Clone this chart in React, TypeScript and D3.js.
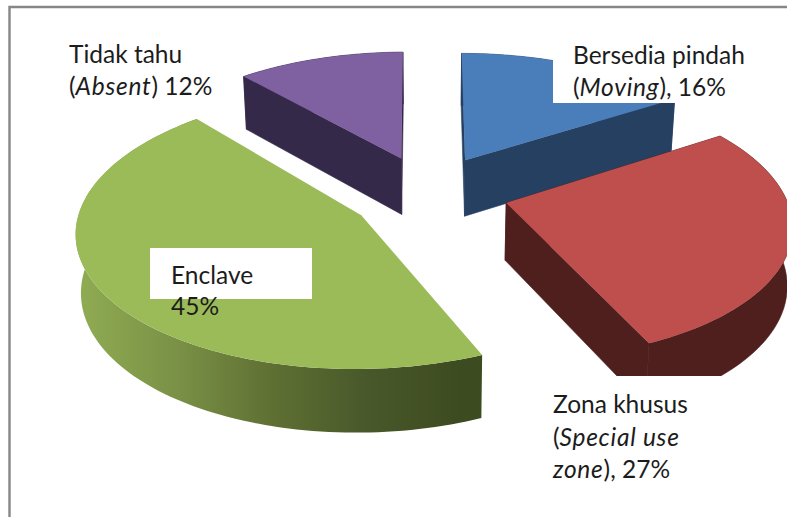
import React from "react";
import * as d3 from "d3";

const categories = ["Bersedia pindah", "Zona khusus", "Enclave", "Tidak tahu"];
const values = [16, 27, 45, 12];
const topColors = ["#4a7ebb", "#be4f4c", "#9bbb59", "#7f60a0"];
const sideColors = ["#264061", "#4f1f1e", "#4f6128", "#35294a"];
const drawOrder = [3, 0, 2, 1];
const greenStops = ["#8fab52", "#7a9146", "#5f7033", "#49582a", "#3d4b20"];

type Seg = { t: string; i?: boolean };
const labelLines: Seg[][][] = [
  [[{ t: "Bersedia pindah" }], [{ t: "(" }, { t: "Moving", i: true }, { t: "), 16%" }]],
  [[{ t: "Zona khusus" }], [{ t: "(" }, { t: "Special use", i: true }], [{ t: "zone", i: true }, { t: "), 27%" }]],
  [[{ t: "Enclave" }], [{ t: "45%" }]],
  [[{ t: "Tidak tahu" }], [{ t: "(" }, { t: "Absent", i: true }, { t: ") 12%" }]],
];

const W = 787, H = 517;
const cx = 430, cy = 190, R = 279, Ry = 130, persp = 0.15, explode = 0.27;
// small per-slice corrections for the picture's perspective: angle trims (radians) and pixel shifts
const startTrim = [0, 0, 0.05, 0.022];
const endTrim = [0, 0.025, 0, -0.016];
const rimShift = [[1, -1], [2, 2], [0, -2], [0, -1]];
const apexShift = [[0, 0], [3, 3], [-5, 5], [-2, 0]];
const labelPos = [
  { x: 573, y: 64, lh: 32 },
  { x: 553, y: 413, lh: 32.5 },
  { x: 171, y: 284, lh: 31 },
  { x: 69, y: 63, lh: 32 },
];
const boxes = [
  { x: 553, y: 30, w: 220, h: 73 },
  { x: 553, y: 376, w: 170, h: 115 },
  { x: 150, y: 248, w: 162, h: 51 },
];

const scaleAt = (v: number) => 1 / (1 + persp * v);
const topPt = (u: number, v: number): [number, number] => {
  const s = scaleAt(v);
  return [cx + R * u * s, cy - Ry * v * s];
};
const botPt = (u: number, v: number): [number, number] => {
  const s = scaleAt(v);
  const [x, y] = topPt(u, v);
  return [cx + (x - cx) * 0.985, y + 25.4 + 31.6 * s];
};
const shift = (p: [number, number], d: number[]): [number, number] => [p[0] + d[0], p[1] + d[1]];

const pieGen = d3.pie<number>().sort(null).value((d) => d);
const arcs = pieGen(values);
const line = d3.line<[number, number]>();

const sliceGeom = (i: number) => {
  const a = arcs[i];
  const mid = (a.startAngle + a.endAngle) / 2;
  const ou = explode * Math.sin(mid), ov = explode * Math.cos(mid);
  const t0 = a.startAngle + startTrim[i], t1 = a.endAngle + endTrim[i];
  const n = Math.ceil((t1 - t0) * 40);
  const thetas = d3.range(n + 1).map((k) => t0 + ((t1 - t0) * k) / n);
  const uv = thetas.map((t) => [ou + Math.sin(t), ov + Math.cos(t)] as [number, number]);
  const rimTop = uv.map(([u, v]) => shift(topPt(u, v), rimShift[i]));
  const rimBot = uv.map(([u, v]) => shift(botPt(u, v), rimShift[i]));
  const apexT = shift(topPt(ou, ov), apexShift[i]), apexB = shift(botPt(ou, ov), apexShift[i]);
  return {
    top: line([apexT, ...rimTop])! + "Z",
    wall: line([...rimTop, ...rimBot.slice().reverse()])! + "Z",
    face1: line([apexT, rimTop[0], rimBot[0], apexB])! + "Z",
    face2: line([apexT, rimTop[n], rimBot[n], apexB])! + "Z",
    xs: rimBot.map((p) => p[0]),
  };
};

const font = "Lato, Carlito, Calibri, sans-serif";

export default function App() {
  const greenX = d3.extent(sliceGeom(2).xs) as [number, number];
  const stopOffset = d3.scaleLinear().domain([0, greenStops.length - 1]).range([0, 1]);
  return (
    <svg width={W} height={H} viewBox={`0 0 ${W} ${H}`} style={{ position: "absolute", left: 0, top: 0, display: "block", background: "#fff" }}>
      <defs>
        <linearGradient id="greenWall" gradientUnits="userSpaceOnUse" x1={greenX[0]} x2={greenX[1] - 20} y1={0} y2={0}>
          {greenStops.map((c, i) => (
            <stop key={c} offset={stopOffset(i)} stopColor={c} />
          ))}
        </linearGradient>
      </defs>
      <path d={`M9.5 ${H}V7H${W}`} fill="none" stroke="#868686" strokeWidth={2.4} />
      {drawOrder.map((i) => {
        const g = sliceGeom(i);
        const side = sideColors[i];
        const wallFill = i === 2 ? "url(#greenWall)" : side;
        return (
          <g key={categories[i]}>
            {i !== 2 && <path d={g.face1} fill={side} stroke={side} strokeWidth={0.6} />}
            {i !== 2 && <path d={g.face2} fill={side} stroke={side} strokeWidth={0.6} />}
            <path d={g.wall} fill={wallFill} stroke={i === 2 ? "none" : side} strokeWidth={0.6} />
            <path d={g.top} fill={topColors[i]} />
          </g>
        );
      })}
      {boxes.map((b) => (
        <rect key={b.y} x={b.x} y={b.y} width={b.w} height={b.h} fill="#fff" />
      ))}
      {labelLines.map((lines, i) =>
        lines.map((segs, j) => (
          <text key={`${i}-${j}`} x={labelPos[i].x} y={labelPos[i].y + j * labelPos[i].lh} fontFamily={font} fontSize={24.5} fill="#1c1c1c">
            {segs.map((s, k) => (
              <tspan key={k} fontStyle={s.i ? "italic" : "normal"} letterSpacing={s.i ? 0.75 : 0}>{s.t}</tspan>
            ))}
          </text>
        ))
      )}
    </svg>
  );
}
